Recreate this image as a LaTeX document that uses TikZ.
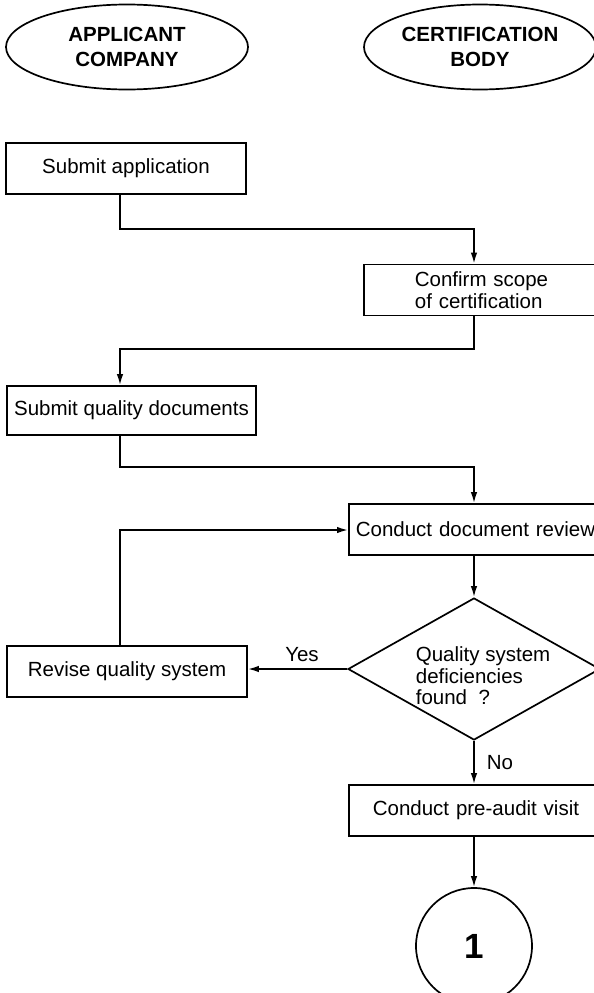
\documentclass[tikz,border=0pt]{standalone}
\usepackage{fontspec}
\setmainfont{Liberation Sans}
\usetikzlibrary{arrows.meta,shapes.geometric}
\begin{document}
\begin{tikzpicture}[x=1pt,y=-1pt,
  line width=1.7pt,
  txt/.style={font=\fontsize{20.5}{22}\selectfont},
  hdr/.style={draw,ellipse,font=\fontsize{20.5}{24.5}\selectfont\bfseries,align=center,inner sep=0pt},
  stepbox/.style={draw,rectangle,txt,inner sep=0pt},
  openbox/.style={draw,rectangle,txt,inner ysep=0pt,align=left,text width=260pt,minimum height=51pt},
  arr/.style={-{Latex[length=11pt,width=6.5pt]}},
  lbl/.style={txt,inner sep=0pt}
]
\useasboundingbox (0,0) rectangle (594,993);
\clip (0,0) rectangle (594,993);
% headers
\node[hdr,minimum width=242pt,minimum height=85pt] (hA) at (127,47) {APPLICANT\\COMPANY};
\node[hdr,minimum width=232pt,minimum height=85pt] (hB) at (480,47) {CERTIFICATION\\BODY};
% boxes
\node[stepbox,minimum width=240pt,minimum height=51pt] (sa) at (126,168.5) {Submit application};
\node[openbox,anchor=west,inner xsep=51pt] (cs) at (363,290) {Confirm scope\\of certification};
\node[stepbox,minimum width=249pt,minimum height=49pt] (sq) at (131.5,410.5) {Submit quality documents};
\node[openbox,anchor=west,inner xsep=7pt] (cr) at (348,529.5) {Conduct document review};
\node[draw,diamond,minimum width=252pt,minimum height=142pt,inner sep=0pt] (q) at (474,669) {};
\node[lbl,anchor=west,align=left,font=\fontsize{20.5}{21.5}\selectfont] (qt) at (415,676) {Quality system\\deficiencies\\found~ ?};
\node[stepbox,minimum width=240pt,minimum height=51pt] (rv) at (127,671.5) {Revise quality system};
\node[openbox,anchor=west,inner xsep=24pt] (pa) at (348,810.5) {Conduct pre-audit visit};
\node[draw,circle,minimum size=116pt,inner sep=0pt,font=\fontsize{35}{35}\selectfont\bfseries] (c1) at (474,946) {1};
% helper coordinates
\coordinate (h1) at (120,229);
\coordinate (h2) at (474,349);
\coordinate (h3) at (120,467);
\coordinate (h4) at (120,530);
\coordinate (rx) at (474,0);
% connectors
\draw[arr] (sa.south -| h1) -- (h1) -| (cs.north -| rx);
\draw[arr] (cs.south -| rx) -- (h2) -| (sq.north -| h1);
\draw[arr] (sq.south -| h3) -- (h3) -| (cr.north -| rx);
\draw[arr] (cr.south -| rx) -- (q.north);
\draw[arr] (q.west) -- (rv.east |- q.west);
\draw[arr] (rv.north -| h4) -- (h4) -- (cr.west |- h4);
\draw[arr] (q.south) -- (pa.north -| q.south);
\draw[arr] (pa.south -| rx) -- (c1.north);
% labels
\node[lbl] (yes) at (302,655) {Yes};
\node[lbl] (no) at (500,763) {No};
\end{tikzpicture}
\end{document}
